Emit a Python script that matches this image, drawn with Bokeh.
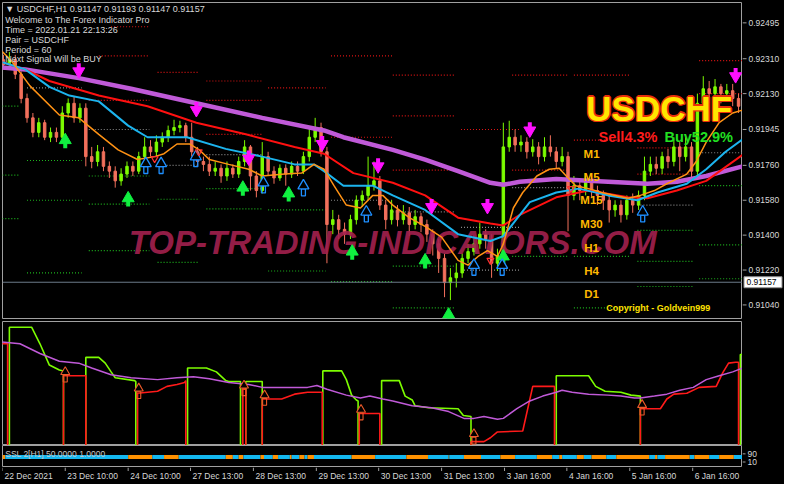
from bokeh.plotting import figure
from bokeh.models import Range1d, Span
from bokeh.layouts import column, row
from bokeh.embed import file_html
from bokeh.resources import INLINE
from bokeh.core.properties import value

# ---------------- data ----------------
OPEN = [.92305,.92280,.92305,.92230,.92105,.92005,.91930,.91980,.91905,.91930,
        .91905,.92030,.92080,.92005,.92055,.91805,.91780,.91830,.91755,.91730,
        .91680,.91715,.91755,.91730,.91805,.91855,.91830,.91880,.91905,.91940,
        .91955,.91965,.91905,.91830,.91780,.91765,.91730,.91745,.91705,.91745,
        .91715,.91780,.91855,.91705,.91630,.91805,.91730,.91695,.91745,.91715,
        .91755,.91730,.91805,.91905,.91955,.91830,.91455,.91480,.91430,.91405,
        .91480,.91580,.91605,.91655,.91680,.91555,.91480,.91530,.91480,.91515,
        .91455,.91495,.91455,.91405,.91355,.91280,.91155,.91180,.91205,.91280,
        .91315,.91355,.91405,.91380,.91255,.91295,.91855,.91905,.91865,.91880,
        .91830,.91855,.91805,.91855,.91830,.91780,.91805,.91605,.91655,.91630,
        .91680,.91630,.91605,.91580,.91530,.91555,.91505,.91580,.91555,.91605,
        .91730,.91765,.91745,.91805,.91780,.91855,.91805,.91855,.91730,.92080,
        .92155,.92130,.92165,.92130,.92145,.92105]
CLOSE = [.92280,.92305,.92230,.92105,.92005,.91930,.91980,.91905,.91930,.91905,
         .92030,.92080,.92005,.92055,.91805,.91780,.91830,.91755,.91730,.91680,
         .91715,.91755,.91730,.91805,.91855,.91830,.91880,.91905,.91940,.91955,
         .91965,.91905,.91830,.91780,.91765,.91730,.91745,.91705,.91745,.91715,
         .91780,.91855,.91705,.91630,.91805,.91730,.91695,.91745,.91715,.91755,
         .91730,.91805,.91905,.91955,.91830,.91455,.91480,.91430,.91405,.91480,
         .91580,.91605,.91655,.91680,.91555,.91480,.91530,.91480,.91515,.91455,
         .91495,.91455,.91405,.91355,.91280,.91155,.91180,.91205,.91280,.91315,
         .91355,.91405,.91380,.91255,.91295,.91855,.91905,.91865,.91880,.91830,
         .91855,.91805,.91855,.91830,.91780,.91805,.91605,.91655,.91630,.91680,
         .91630,.91605,.91580,.91530,.91555,.91505,.91580,.91555,.91605,.91730,
         .91765,.91745,.91805,.91780,.91855,.91805,.91855,.91730,.92080,.92155,
         .92130,.92165,.92130,.92145,.92105,.92065]
HIGH = [.92330,.92345,.92330,.92245,.92130,.92030,.92005,.91995,.91955,.91955,
        .92065,.92105,.92115,.92080,.92080,.91855,.91865,.91855,.91780,.91755,
        .91745,.91780,.91780,.91830,.91905,.91890,.91915,.91930,.91965,.91995,
        .91990,.91980,.91980,.91855,.91805,.91805,.91780,.91765,.91780,.91765,
        .91805,.91890,.91865,.91730,.91880,.91830,.91755,.91765,.91765,.91780,
        .91780,.91830,.91955,.92005,.91980,.91855,.91530,.91505,.91465,.91505,
        .91605,.91630,.91805,.91780,.91705,.91580,.91580,.91555,.91555,.91545,
        .91530,.91515,.91480,.91430,.91380,.91305,.91230,.91255,.91305,.91355,
        .91380,.91465,.91430,.91405,.91330,.91980,.91990,.91945,.91915,.91905,
        .91895,.91880,.91905,.91915,.91855,.91855,.91830,.91705,.91680,.91705,
        .91705,.91655,.91630,.91605,.91580,.91580,.91605,.91615,.91630,.91805,
        .91805,.91805,.91830,.91845,.91905,.91880,.91905,.91880,.92130,.92220,
        .92195,.92205,.92180,.92180,.92180,.92130]
LOW = [.92255,.92265,.92205,.92080,.91980,.91905,.91905,.91890,.91880,.91880,
       .91890,.92005,.91980,.91980,.91755,.91745,.91755,.91730,.91695,.91645,
       .91655,.91695,.91705,.91715,.91780,.91805,.91805,.91855,.91880,.91915,
       .91930,.91880,.91805,.91755,.91730,.91705,.91705,.91670,.91680,.91695,
       .91695,.91755,.91630,.91595,.91615,.91705,.91665,.91680,.91655,.91695,
       .91705,.91715,.91780,.91880,.91805,.91255,.91405,.91380,.91355,.91380,
       .91455,.91545,.91580,.91630,.91530,.91430,.91455,.91445,.91455,.91395,
       .91430,.91415,.91365,.91295,.91205,.91080,.91065,.91130,.91180,.91255,
       .91295,.91330,.91330,.91180,.91215,.91265,.91830,.91830,.91830,.91795,
       .91805,.91765,.91780,.91805,.91745,.91755,.91420,.91580,.91580,.91605,
       .91595,.91555,.91530,.91465,.91495,.91465,.91480,.91515,.91530,.91580,
       .91705,.91715,.91715,.91745,.91755,.91730,.91780,.91695,.91705,.92055,
       .92080,.92105,.92080,.92105,.92065,.92030]

# moving averages (bar index, price)
MA_PURPLE_X = [-0.5,3.7,12.8,21.7,32.8,44.0,54.5,57.8,66.2,71.7,77.3,82.8,85.0,87.8,94.0,99.5,106.2,109.5,114.5,119.5,125.7]
MA_PURPLE_Y = [.92265,.92255,.92210,.92155,.92080,.92005,.91940,.91905,.91840,.91790,.91730,.91670,.91660,.91675,.91690,.91680,.91670,.91665,.91675,.91705,.91755]
MA_RED_X = [-0.5,3.7,7.8,16.2,24.5,32.8,41.2,49.5,54.5,59.5,66.2,71.7,77.3,82.8,85.0,87.8,94.0,99.5,106.2,109.5,114.5,119.5,125.7]
MA_RED_Y = [.92295,.92255,.92195,.92120,.92065,.91980,.91920,.91855,.91820,.91720,.91670,.91605,.91490,.91460,.91450,.91505,.91595,.91630,.91595,.91590,.91630,.91680,.91815]
MA_CYAN_X = [-0.5,3.7,7.8,11.2,16.2,21.2,24.5,31.2,37.8,44.0,49.5,52.8,54.5,57.8,62.8,66.2,71.7,77.3,82.8,85.0,89.5,94.0,97.8,102.8,107.8,111.2,116.2,119.5,122.8,125.7]
MA_CYAN_Y = [.92295,.92255,.92165,.92120,.92090,.91965,.91905,.91905,.91845,.91805,.91765,.91765,.91730,.91655,.91655,.91605,.91530,.91405,.91370,.91395,.91570,.91620,.91640,.91605,.91580,.91620,.91665,.91740,.91830,.91895]
MA_ORANGE_X = [-0.5,1.2,4.5,9.5,12.8,16.2,19.5,22.8,25.7,27.3,29.5,31.7,33.3,35.0,38.3,41.7,44.0,47.8,50.7,52.8,
               54.5,56.2,58.3,60.7,62.8,64.5,66.2,69.0,71.7,74.5,77.3,79.0,80.7,82.3,84.0,85.0,86.7,88.3,90.7,92.8,
               94.5,95.7,97.3,99.5,101.7,104.0,106.2,108.3,110.7,112.8,116.2,117.8,119.5,121.7,124.0,125.7]
MA_ORANGE_Y = [.92355,.92305,.92170,.92020,.92005,.91920,.91840,.91790,.91805,.91820,.91870,.91870,.91840,.91790,.91765,.91740,.91705,.91715,.91720,.91765,
               .91740,.91655,.91555,.91540,.91605,.91605,.91555,.91490,.91445,.91390,.91270,.91245,.91290,.91320,.91290,.91355,.91540,.91620,.91705,.91740,
               .91745,.91705,.91655,.91640,.91620,.91605,.91590,.91605,.91630,.91665,.91715,.91780,.91880,.91980,.92030,.92045]

# dotted support / resistance levels: (bar from, bar to, price, kind)
LEVEL_X0 = [18.3,16.2,55.7,26.2,34.5,45.0,14.5,34.5,34.5,55.7,66.2,86.5,97.0,66.2,77.8,97.0,66.2,86.5,107.8,107.8,118.3,118.3,
            4.0,14.5,34.5,26.2,55.7,86.5,66.2,77.8,77.8,118.3,107.8,
            -0.2,-0.2,-0.2,4.0,4.0,4.0,14.5,14.5,14.5,26.2,26.2,34.5,34.5,45.0,45.0,55.7,66.2,66.2,86.5,97.0,97.0,107.8,107.8,107.8,118.3,118.3,118.3]
LEVEL_X1 = [24.8,24.8,66.2,33.3,44.0,54.8,24.8,44.0,44.0,66.2,76.7,96.2,106.7,76.7,87.8,106.7,76.7,96.2,117.3,117.3,125.7,125.7,
            13.3,24.8,44.0,33.3,66.2,96.2,76.7,87.8,87.8,125.7,117.3,
            2.8,2.8,2.8,13.3,13.3,13.3,24.8,24.8,24.8,33.3,33.3,44.0,44.0,54.8,54.8,66.2,76.7,76.7,96.2,106.7,106.7,117.3,117.3,117.3,125.7,125.7,125.7]
LEVEL_Y = [.92475,.92325,.92325,.92240,.92195,.92160,.92095,.92095,.91920,.91905,.92225,.92225,.92225,.92015,.91945,.91890,.91735,.91735,.91850,.91715,.92300,.92130,
           .92160,.91945,.91815,.91760,.91580,.91645,.91520,.91440,.91220,.91825,.91555,
           .92065,.91710,.91485,.91785,.91580,.91205,.91705,.91560,.91320,.91585,.91260,.91640,.91535,.91530,.91215,.91160,.91240,.91025,.91290,.91290,.91025,.91425,.91265,.91135,.91655,.91350,.91175]
LEVEL_KIND = ["R"] * 22 + ["N"] * 11 + ["S"] * 27

# signal arrows (bar, price)
SELL_X = [12.8,32.8,41.7,54.2,63.7,72.8,82.3,89.5,124.5]
SELL_Y = [.92245,.92045,.91795,.91870,.91755,.91545,.91545,.91940,.92220]
BUY_X = [10.5,21.2,40.7,48.5,59.3,71.7,85.0,75.7]
BUY_Y = [.91890,.91590,.91645,.91615,.91315,.91270,.91290,.90990]
HOLLOW_X = [24.2,26.8,32.7,44.2,51.0,61.7,80.0,84.8,108.7]
HOLLOW_Y = [.91770,.91770,.91805,.91670,.91655,.91520,.91245,.91245,.91520]
SMALLDN_X = [25.7,33.2,82.8,96.5]
SMALLDN_Y = [.91795,.91830,.91270,.91640]

PRICE_TICKS = [0.91040,0.91220,0.91400,0.91580,0.91760,0.91945,0.92130,0.92310,0.92495]
LAST_PRICE = 0.91157

# oscillator panel
OSC_PURPLE_X = [-0.5,2.8,6.2,9.5,12.8,15.0,18.3,21.7,26.2,29.5,32.3,35.0,38.3,41.7,44.0,47.3,51.7,53.3,55.0,58.3,
                60.7,62.3,64.5,66.2,69.5,72.8,75.7,78.3,80.0,81.7,84.0,85.0,87.3,89.5,91.7,94.0,95.0,96.7,99.5,102.8,
                105.0,107.3,108.3,110.7,112.8,115.0,117.3,119.5,121.7,124.0,125.7]
OSC_PURPLE_V = [107,105,95,87,85,80,73,70,68,70,71,69,65,63,60,60,60,62,58,52,
                49,51,48,46,41,39,35,28,28,30,27,28,38,46,51,55,57,55,53,52,
                51,49,49,51,53,57,60,68,72,76,80]
OSC_GREEN_X = [[1.0,1.0,4.8,6.2,7.8,9.5,10.2,10.2],
               [14.0,14.0,16.2,17.3,18.3,19.0,22.3,22.5,22.5],
               [31.3,31.3,34.5,36.2,37.8,38.3,40.3,40.3],
               [41.2,41.2,44.0,44.0],
               [54.3,54.3,57.5,58.3,59.2,60.0,60.3,60.3],
               [64.3,64.3,67.3,68.3,69.5,70.0,72.3,77.3,78.2,79.5,79.5],
               [94.0,94.0,99.5,100.7,102.3,105.0,106.7,108.3,108.3],
               [125.3,125.3,125.8]]
OSC_GREEN_V = [[0,122,122,105,83,78,77,0],
               [0,91,91,85,76,70,67,66,0],
               [0,80,80,76,67,66,66,0],
               [0,66,66,0],
               [0,77,77,68,52,47,46,0],
               [0,67,67,51,47,41,39,38,31,30,0],
               [0,72,72,61,56,55,52,51,0],
               [0,94,94]]
OSC_RED_X = [[-0.5,0.7,0.7],
             [10.2,10.2,14.0,14.0],
             [22.8,22.8,26.2,27.8,29.5,30.8,31.0,31.0],
             [40.7,40.7,41.2,41.2],
             [44.0,44.0,47.3,49.5,51.7,54.2,54.2],
             [60.5,60.5,64.0,64.0],
             [79.5,79.5,81.7,82.8,84.0,88.3,90.0,93.7,93.7],
             [108.3,108.3,111.7,112.8,114.0,116.2,118.3,121.2,122.3,123.3,124.5,125.0,125.0]]
OSC_RED_V = [[105,105,0],
             [0,72,72,0],
             [0,54,56,61,63,65,67,0],
             [0,58,58,0],
             [0,48,48,53,55,55,0],
             [0,33,33,0],
             [0,4,4,8,14,15,61,61,0],
             [0,38,38,48,53,54,60,61,75,85,86,86,0]]
OSC_ARROW_X = [10.5,23.0,40.9,44.4,60.8,80.0,108.6]
OSC_ARROW_V = [76,59,62,52,37,12,42]

# SSL strip
SSL_EDGES = [-0.2,0.3,21.2,25.3,27.3,29.8,37.8,39.0,40.0,40.8,43.7,44.3,45.8,46.7,48.7,49.0,50.3,51.2,51.7,52.8,
             59.2,63.2,68.5,72.2,75.7,75.8,78.3,81.2,84.5,87.0,90.7,93.3,94.5,95.0,97.5,98.7,100.0,102.5,104.2,109.8,
             110.8,111.2,112.5,116.7,117.5,120.0,121.7,124.2,125.7]
SSL_STATE = ["up", "dn"] * 24
SSL_TICKS = [10, 90]

TIME_TICKS = [-0.17,10.5,21.2,31.8,42.5,53.2,63.8,74.5,85.2,95.8,106.5,117.2]
TIME_LABELS = ["22 Dec 2021","23 Dec 10:00","24 Dec 10:00","27 Dec 13:00","28 Dec 13:00","29 Dec 13:00",
               "30 Dec 13:00","31 Dec 13:00","3 Jan 16:00","4 Jan 16:00","5 Jan 16:00","6 Jan 16:00"]

TF_LABELS = ["M1","M5","M15","M30","H1","H4","D1"]
TF_Y = [.91820,.91700,.91580,.91460,.91335,.91215,.91095]
INFO_LINES = ["\u25bc USDCHF,H1  0.91147 0.91193 0.91147 0.91157",
              "Welcome to The Forex Indicator Pro",
              "Time = 2022.01.21 22:13:26",
              "Pair = USDCHF",
              "Period = 60",
              "Next Signal Will be BUY"]
INFO_Y = [.92565,.92510,.92460,.92405,.92355,.92310]

# ---------------- styling / layout ----------------
FW, LB, SW = 740, 2, 42
XR = Range1d(-0.17, 125.67)
FONT = "Liberation Sans"
OUT = "#a0a0a0"
TXT = "#d8d8d8"
BULL = "#7CFC00"
BEAR = "#F2705C"
FS = "8.5px"


def panel(fh, top, bottom, yr):
    f = figure(frame_width=FW, frame_height=fh, x_range=XR, y_range=yr,
               output_backend="svg", toolbar_location=None,
               background_fill_color="black", border_fill_color="black",
               min_border_left=LB, min_border_right=0,
               min_border_top=top, min_border_bottom=bottom,
               outline_line_color=OUT, x_axis_location=None, y_axis_location=None)
    f.grid.visible = False
    return f


def side(fh, top, bottom, yr):
    f = figure(frame_width=SW, frame_height=fh, x_range=Range1d(0, SW), y_range=yr,
               output_backend="svg", toolbar_location=None,
               background_fill_color="black", border_fill_color="black",
               min_border_left=0, min_border_right=0,
               min_border_top=top, min_border_bottom=bottom,
               outline_line_color=None, x_axis_location=None, y_axis_location=None)
    f.grid.visible = False
    return f


# ---- main price panel ----
PY = Range1d(0.90970, 0.92600)
p = panel(316, 2, 1, PY)

lvl_col = {"R": "#E01414", "N": "#8a8a8a", "S": "#1DB51D"}
p.segment(x0=LEVEL_X0, y0=LEVEL_Y, x1=LEVEL_X1, y1=LEVEL_Y,
          line_color=[lvl_col[k] for k in LEVEL_KIND], line_width=1.2, line_dash="1 2")

p.add_layout(Span(location=LAST_PRICE, dimension="width", line_color="#6c7a89", line_width=1))

xs = list(range(len(CLOSE)))
ccol = [BULL if c >= o else BEAR for o, c in zip(OPEN, CLOSE)]
p.segment(x0=xs, y0=HIGH, x1=xs, y1=LOW, line_color=ccol, line_width=1)
p.vbar(x=xs, width=0.42, top=[max(o, c) for o, c in zip(OPEN, CLOSE)],
       bottom=[min(o, c) for o, c in zip(OPEN, CLOSE)], fill_color=ccol, line_color=ccol)

p.text(x=[66.2], y=[0.91360], text=["TOP-TRADING-INDICATORS.COM"], text_align="center",
       text_baseline="middle", text_font=value(FONT), text_font_size="33px",
       text_font_style="bold italic", text_color="#A3204E", text_alpha=0.92)

p.line(MA_PURPLE_X, MA_PURPLE_Y, line_color="#C05AD8", line_width=4.5)
p.line(MA_RED_X, MA_RED_Y, line_color="#FF1010", line_width=2)
p.line(MA_CYAN_X, MA_CYAN_Y, line_color="#1CB4EE", line_width=2)
p.line(MA_ORANGE_X, MA_ORANGE_Y, line_color="#FF9214", line_width=1.5)

# arrows
p.segment(x0=SELL_X, y0=[y + 0.0001 for y in SELL_Y], x1=SELL_X, y1=[y + 0.00042 for y in SELL_Y],
          line_color="#FF10FF", line_width=4)
p.scatter(SELL_X, SELL_Y, marker="inverted_triangle", size=12, fill_color="#FF10FF", line_color="#FF10FF")
p.segment(x0=BUY_X, y0=[y - 0.0001 for y in BUY_Y], x1=BUY_X, y1=[y - 0.00042 for y in BUY_Y],
          line_color="#10F040", line_width=4)
p.scatter(BUY_X, BUY_Y, marker="triangle", size=12, fill_color="#10F040", line_color="#10F040")
p.rect(x=HOLLOW_X, y=[y - 0.00034 for y in HOLLOW_Y], width=4, width_units="screen",
       height=0.00036, fill_color=None, line_color="#1E8FFF", line_width=1.3)
p.scatter(HOLLOW_X, HOLLOW_Y, marker="triangle", size=11, fill_color="black",
          line_color="#1E8FFF", line_width=1.3)
p.scatter(SMALLDN_X, SMALLDN_Y, marker="inverted_triangle", size=7, fill_color=None,
          line_color="#FF3030", line_width=1.2)

# info texts
p.text(x=[0.3] * len(INFO_LINES), y=INFO_Y, text=INFO_LINES, text_align="left", text_baseline="middle",
       text_font=value(FONT), text_font_size="9px", text_color=TXT)

# USDCHF overlay with outline
for dx, dy in [(-1.5, 0), (1.5, 0), (0, -1.5), (0, 1.5), (-1, -1), (1, 1), (-1, 1), (1, -1)]:
    p.text(x=[111.5], y=[0.92055], text=["USDCHF"], x_offset=dx, y_offset=dy, text_align="center",
           text_baseline="middle", text_font=value(FONT), text_font_size="35px",
           text_font_style="bold", text_color="#E8300A")
p.text(x=[111.5], y=[0.92055], text=["USDCHF"], text_align="center", text_baseline="middle",
       text_font=value(FONT), text_font_size="35px", text_font_style="bold", text_color="#FFE600")
p.text(x=[101.2], y=[0.91905], text=["Sell4.3%"], text_align="left", text_baseline="middle",
       text_font=value(FONT), text_font_size="14.5px", text_font_style="bold", text_color="#FF1C1C")
p.text(x=[112.4], y=[0.91905], text=["Buy52.9%"], text_align="left", text_baseline="middle",
       text_font=value(FONT), text_font_size="14.5px", text_font_style="bold", text_color="#22E022")
p.text(x=[100.0] * len(TF_LABELS), y=TF_Y, text=TF_LABELS, text_align="center", text_baseline="middle",
       text_font=value(FONT), text_font_size="11.5px", text_font_style="bold", text_color="#FFB800")
p.text(x=[102.5], y=[0.91025], text=["Copyright - Goldvein999"], text_align="left", text_baseline="middle",
       text_font=value(FONT), text_font_size="9px", text_font_style="bold", text_color="#FFE000")

# price scale (drawn beside the main panel)
pa = side(316, 2, 1, PY)
pa.segment(x0=0, y0=PRICE_TICKS, x1=4, y1=PRICE_TICKS, line_color=OUT, line_width=1)
pa.text(x=6, y=PRICE_TICKS, text=[f"{t:.5f}" for t in PRICE_TICKS], text_align="left",
        text_baseline="middle", text_font=value(FONT), text_font_size=FS, text_color=TXT)
pa.rect(x=[20.5], y=[LAST_PRICE], width=38, height=11, height_units="screen",
        fill_color="white", line_color="#909090", line_width=1)
pa.text(x=[4], y=[LAST_PRICE], text=[f"{LAST_PRICE:.5f}"], text_align="left", text_baseline="middle",
        text_font=value(FONT), text_font_size=FS, text_color="black")

# ---- oscillator panel ----
o = panel(124, 2, 0, Range1d(0, 128))
o.multi_line(OSC_GREEN_X, OSC_GREEN_V, line_color="#7CFC00", line_width=1.6)
o.multi_line(OSC_RED_X, OSC_RED_V, line_color="#FF1A1A", line_width=1.6)
o.line(OSC_PURPLE_X, OSC_PURPLE_V, line_color="#C05AD8", line_width=1.5)
o.rect(x=OSC_ARROW_X, y=[v - 7 for v in OSC_ARROW_V], width=4, width_units="screen", height=7,
       fill_color=None, line_color="#EE5A2A", line_width=1.1)
o.scatter(OSC_ARROW_X, OSC_ARROW_V, marker="triangle", size=9, fill_color="black",
          line_color="#EE5A2A", line_width=1.1)
oa = side(124, 2, 0, Range1d(0, 128))

# ---- SSL strip panel ----
SY = Range1d(-44, 172)
s = panel(22, 0, 0, SY)
ssl_col = {"up": "#FF9100", "dn": "#14B8F0"}
s.quad(left=SSL_EDGES[:-1], right=SSL_EDGES[1:], bottom=40, top=79,
       fill_color=[ssl_col[k] for k in SSL_STATE], line_color=None)
s.text(x=[0.3], y=[88], text=["SSL 2[H1] 50.0000 1.0000"], text_align="left", text_baseline="middle",
       text_font=value(FONT), text_font_size=FS, text_color="#c8c8c8")
sa = side(22, 0, 0, SY)
sa.segment(x0=0, y0=SSL_TICKS, x1=3, y1=SSL_TICKS, line_color=OUT, line_width=1)
sa.text(x=5, y=SSL_TICKS, text=[str(t) for t in SSL_TICKS], text_align="left", text_baseline="middle",
        text_font=value(FONT), text_font_size=FS, text_color=TXT)

# ---- time axis strip ----
a = panel(17, 0, 0, Range1d(0, 17))
a.outline_line_color = None
a.segment(x0=TIME_TICKS, y0=17, x1=TIME_TICKS, y1=13.5, line_color=OUT, line_width=1)
a.text(x=[t + 0.35 for t in TIME_TICKS], y=8.5, text=TIME_LABELS, text_align="left", text_baseline="middle",
       text_font=value(FONT), text_font_size=FS, text_color=TXT)
aa = side(17, 0, 0, Range1d(0, 17))

layout = row(column(p, o, s, a, spacing=0), column(pa, oa, sa, aa, spacing=0), spacing=0)
layout.styles = {"background-color": "black"}

open("out.html", "w").write(file_html(layout, INLINE))
